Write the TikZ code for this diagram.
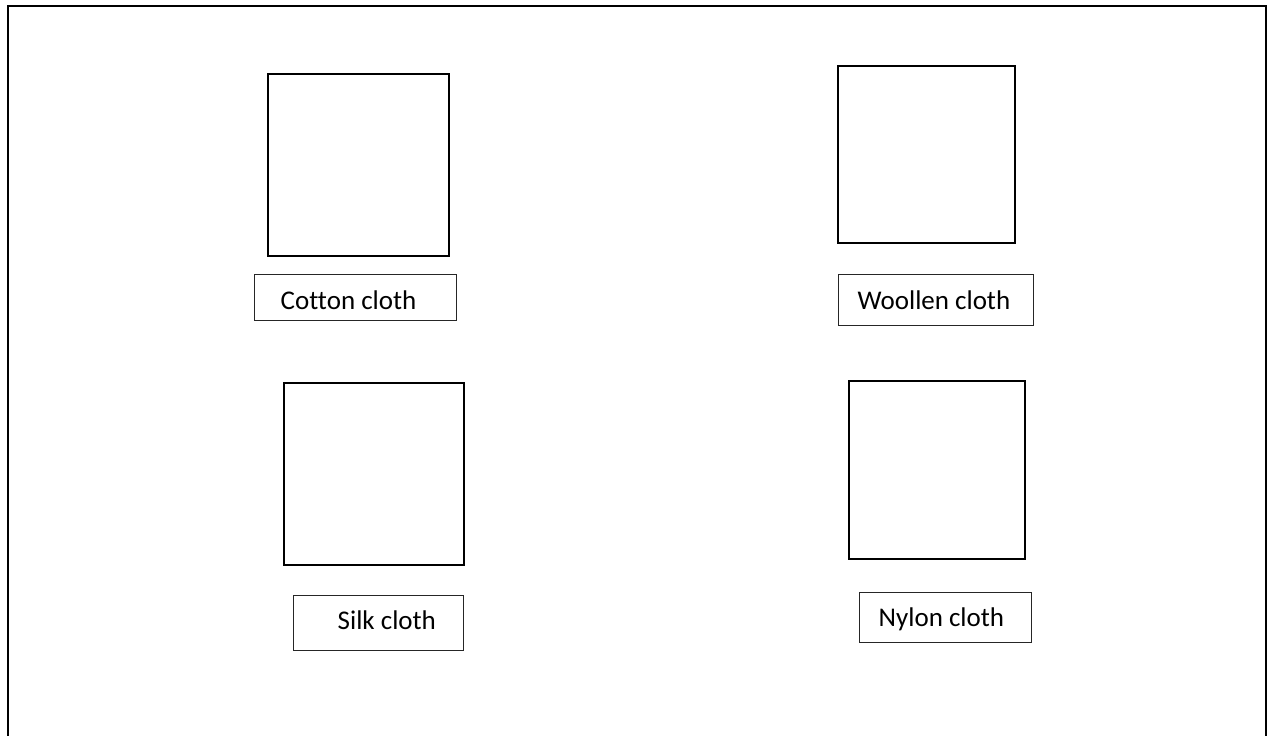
\documentclass[tikz,border=0pt]{standalone}
\usepackage{fontspec}
\setmainfont[Ligatures=NoCommon]{Carlito}
\usetikzlibrary{positioning,calc}

\begin{document}
\begin{tikzpicture}[
    x=1pt, y=-1pt,
    square/.style={rectangle, draw=black, line width=2pt, fill=white},
    tag/.style={rectangle, draw=black!85, line width=1pt, fill=white},
    tagtext/.style={anchor=base west, inner sep=0pt, font=\fontsize{27}{32}\selectfont},
    frame/.style={draw=black, line width=2pt}
]
\useasboundingbox (0,0) rectangle (1274,736);

% outer border
\draw[frame] (8,760) -- (8,6) -- (1266,6) -- (1266,760);

% sample squares
\node[square, minimum width=181pt, minimum height=182pt] (cotton) at (358.5,165) {};
\node[square, minimum width=177pt, minimum height=177pt] (woollen) at (926.5,154.5) {};
\node[square, minimum width=180pt, minimum height=182pt] (silk) at (374,474) {};
\node[square, minimum width=176pt, minimum height=178pt] (nylon) at (937,470) {};

% label boxes
\node[tag, minimum width=202pt, minimum height=46pt] (cottontag) at (355,297) {};
\node[tag, minimum width=195pt, minimum height=51pt] (woollentag) at (935.5,299.5) {};
\node[tag, minimum width=170pt, minimum height=55pt] (silktag) at (378,622.5) {};
\node[tag, minimum width=172pt, minimum height=50pt] (nylontag) at (945,617) {};

\node[tagtext] (cottonlbl) at ($(cottontag.north west)+(27,36)$) {Cotton cloth};
\node[tagtext] (woollenlbl) at ($(woollentag.north west)+(20,36)$) {Woollen cloth};
\node[tagtext] (silklbl) at ($(silktag.north west)+(45,35)$) {Silk cloth};
\node[tagtext] (nylonlbl) at ($(nylontag.north west)+(20,35)$) {Nylon cloth};

\end{tikzpicture}
\end{document}
